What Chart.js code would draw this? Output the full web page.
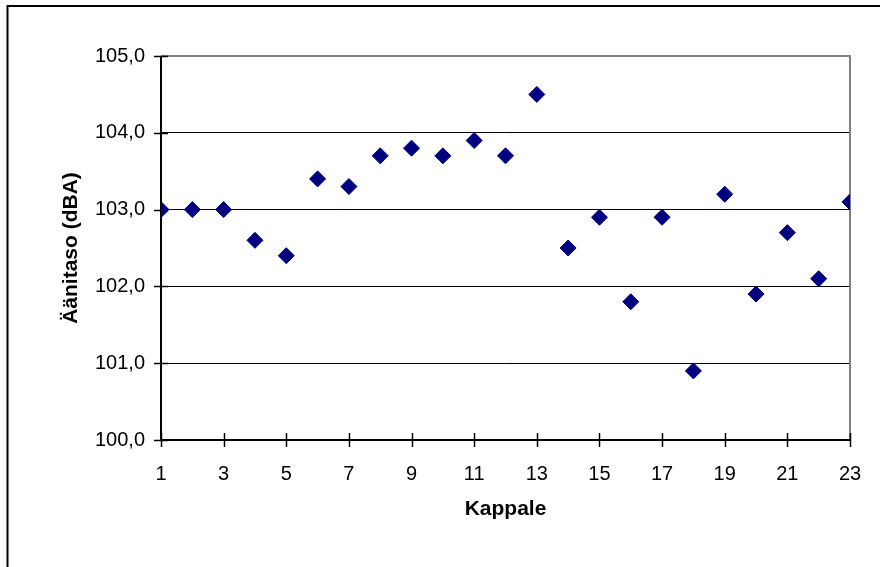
<!DOCTYPE html>
<html>
<head>
<meta charset="utf-8">
<script src="https://cdn.jsdelivr.net/npm/chart.js@4/dist/chart.umd.min.js"></script>
<style>
  html, body { margin: 0; padding: 0; background: #ffffff; }
  #wrap { width: 884px; height: 567px; }
</style>
</head>
<body>
<div id="wrap"><canvas id="c" width="884" height="567"></canvas></div>
<script>
// Song number and measured sound level
const kappale = [1, 2, 3, 4, 5, 6, 7, 8, 9, 10, 11, 12, 13, 14, 15, 16, 17, 18, 19, 20, 21, 22, 23];
const aanitaso = [103.0, 103.0, 103.0, 102.6, 102.4, 103.4, 103.3, 103.7, 103.8, 103.7, 103.9, 103.7,
                  104.5, 102.5, 102.9, 101.8, 102.9, 100.9, 103.2, 101.9, 102.7, 102.1, 103.1];
const yTicks = [100, 101, 102, 103, 104, 105];
const xTicks = [1, 3, 5, 7, 9, 11, 13, 15, 17, 19, 21, 23];

const points = kappale.map((k, i) => ({ x: k, y: aanitaso[i] }));
const FONT = "'Liberation Sans', Arial, sans-serif";

// Outer frame, plot border, axes and tick marks that cross the axis lines
const framePlugin = {
  id: 'frame',
  beforeDraw(chart) {
    const ctx = chart.ctx;
    ctx.save();
    ctx.fillStyle = '#ffffff';
    ctx.fillRect(0, 0, chart.width, chart.height);
    ctx.strokeStyle = '#000000';
    ctx.lineWidth = 2;
    ctx.beginPath();
    ctx.moveTo(7.5, chart.height);
    ctx.lineTo(7.5, 6);
    ctx.lineTo(880, 6);
    ctx.stroke();
    ctx.restore();
  },
  beforeDatasetsDraw(chart) {
    const ctx = chart.ctx;
    const a = chart.chartArea;
    const xs = chart.scales.x, ys = chart.scales.y;
    ctx.save();
    // gray top and right border of the plot area
    ctx.strokeStyle = '#808080';
    ctx.lineWidth = 2;
    ctx.beginPath();
    ctx.moveTo(a.left, a.top);
    ctx.lineTo(a.right, a.top);
    ctx.lineTo(a.right, a.bottom);
    ctx.stroke();
    // axes
    ctx.strokeStyle = '#000000';
    ctx.lineWidth = 2;
    ctx.beginPath();
    ctx.moveTo(a.left, a.top);
    ctx.lineTo(a.left, a.bottom);
    ctx.lineTo(a.right, a.bottom);
    ctx.stroke();
    ctx.lineWidth = 1.5;
    ctx.beginPath();
    yTicks.forEach(v => {
      const py = Math.round(ys.getPixelForValue(v)) + 0.5;
      ctx.moveTo(a.left - 7, py);
      ctx.lineTo(a.left + 7, py);
    });
    xTicks.forEach(v => {
      const px = Math.round(xs.getPixelForValue(v)) + 0.5;
      ctx.moveTo(px, a.bottom - 7);
      ctx.lineTo(px, a.bottom + 7);
    });
    ctx.stroke();
    ctx.restore();
  }
};

new Chart(document.getElementById('c'), {
  type: 'scatter',
  data: {
    datasets: [{
      label: 'Äänitaso',
      data: points,
      pointStyle: 'rectRot',
      pointRadius: 8,
      pointHoverRadius: 8,
      pointBackgroundColor: '#000080',
      pointBorderColor: '#000080',
      pointBorderWidth: 1
    }]
  },
  options: {
    responsive: false,
    animation: false,
    events: [],
    layout: { padding: { left: 0, top: 56, right: 34, bottom: 0 } },
    plugins: {
      legend: { display: false },
      tooltip: { enabled: false }
    },
    scales: {
      x: {
        type: 'linear',
        min: 1,
        max: 23,
        afterFit(scale) { scale.height = 127; },
        afterBuildTicks(scale) { scale.ticks = xTicks.map(v => ({ value: v })); },
        grid: { display: false, drawTicks: false },
        border: { display: false },
        ticks: {
          color: '#000000',
          padding: 22,
          maxRotation: 0,
          autoSkip: false,
          font: { family: FONT, size: 20 }
        },
        title: {
          display: true,
          text: 'Kappale',
          color: '#000000',
          padding: { top: 0, bottom: 45 },
          font: { family: FONT, size: 21, weight: 'bold' }
        }
      },
      y: {
        min: 100,
        max: 105,
        afterFit(scale) { scale.width = 161; },
        afterBuildTicks(scale) { scale.ticks = yTicks.map(v => ({ value: v })); },
        grid: {
          drawTicks: false,
          color: ctx => (ctx.tick && ctx.tick.value === 105) ? 'rgba(0,0,0,0)' : '#000000',
          lineWidth: 1
        },
        border: { display: false },
        ticks: {
          color: '#000000',
          padding: 16,
          font: { family: FONT, size: 20 },
          callback: v => Number(v).toFixed(1).replace('.', ',')
        },
        title: {
          display: true,
          text: 'Äänitaso (dBA)',
          color: '#000000',
          padding: { top: 59, bottom: 0 },
          font: { family: FONT, size: 21, weight: 'bold' }
        }
      }
    }
  },
  plugins: [framePlugin]
});
</script>
</body>
</html>
